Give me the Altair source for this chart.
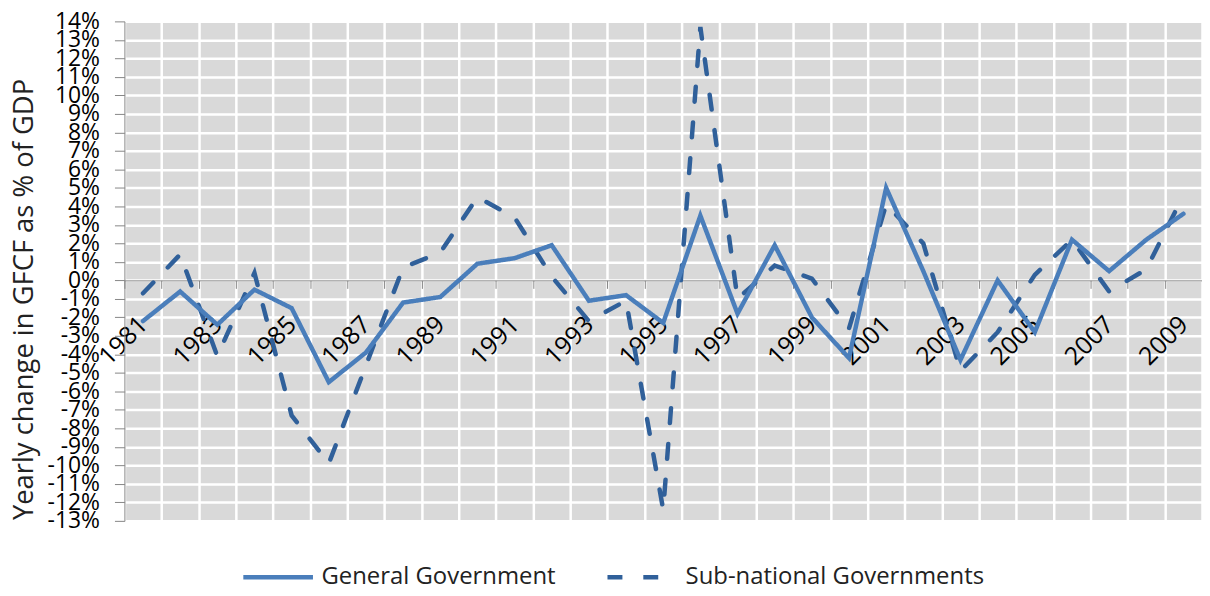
import altair as alt
import pandas as pd

years = list(range(1981, 2010))
general = [-2.2, -0.6, -2.4, -0.5, -1.5, -5.5, -3.9, -1.2, -0.9, 0.9,
           1.2, 1.9, -1.1, -0.8, -2.3, 3.5, -1.8, 1.9, -2.0, -4.2,
           5.0, 0.5, -4.3, 0.0, -2.8, 2.2, 0.5, 2.2, 3.6]
subnational = [-0.7, 1.4, -4.1, 0.4, -7.3, -9.9, -4.6, 0.7, 1.5, 4.5,
               3.4, 0.2, -2.2, -1.1, -12.4, 13.7, -1.0, 0.8, 0.1, -2.6,
               4.1, 2.0, -4.9, -2.8, 0.3, 2.2, -0.6, 0.6, 4.6]
series_names = ["General Government", "Sub-national Governments"]
y_ticks = list(range(-13, 15))
label_years = years[::2]

df = pd.DataFrame({
    "year": years * 2,
    "value": general + subnational,
    "series": [series_names[0]] * len(years) + [series_names[1]] * len(years),
})

W, H = 1083, 502
ymin, ymax = -13, 14
zero_off = -H * (0 - ymin) / (ymax - ymin)

FONT = "Open Sans"
AXC = "#868686"

xscale = alt.Scale(domain=[years[0] - 0.5, years[-1] + 0.5], nice=False, zero=False)
yscale = alt.Scale(domain=[ymin, ymax], nice=False, zero=False)

color = alt.Color("series:N", scale=alt.Scale(domain=series_names, range=["#4A7EBB", "#30609A"]),
                  legend=alt.Legend(title=None, orient="none", legendX=117, legendY=521,
                                    direction="horizontal", symbolType="stroke", symbolSize=4900,
                                    symbolStrokeWidth=4.5, labelFont=FONT, labelFontSize=24,
                                    labelColor="#222222", labelOffset=6, columnPadding=42,
                                    labelLimit=400, padding=0))
dash = alt.StrokeDash("series:N", scale=alt.Scale(domain=series_names, range=[[1, 0], [15, 21]]),
                      legend=None)

yaxis = alt.Axis(values=y_ticks, labelExpr="datum.value + '%'", grid=True, gridColor="white",
                 gridWidth=2.5, domainColor=AXC, tickColor=AXC, tickSize=10, labelPadding=15,
                 labelFont=FONT, labelFontSize=23, labelColor="#000000", labelOverlap=False,
                 labelFlush=False, title="Yearly change in GFCF as % of GDP", titleFont=FONT,
                 titleFontSize=27.5, titleFontWeight="normal", titleColor="#222222",
                 titleX=-100, titleY=279, titleBaseline="middle", titleAngle=-90)

grid_axis = alt.Axis(orient="bottom", offset=zero_off, values=[y - 0.5 for y in years] + [years[-1] + 0.5],
                     grid=True, gridColor="white", gridWidth=2.5, labels=False, ticks=True,
                     tickSize=8, tickColor=AXC, domain=True, domainColor=AXC, title=None)
label_axis = alt.Axis(orient="bottom", offset=zero_off, values=label_years, grid=False, ticks=False,
                      domain=False, labelAngle=-45, labelAlign="right", labelBaseline="middle",
                      labelPadding=40, labelFont=FONT, labelFontSize=25, labelColor="#000000",
                      labelOverlap=False, labelFlush=False, format="d", title=None)

base = alt.Chart(df)
gg = base.transform_filter(alt.datum.series == series_names[0]).mark_line(
    strokeWidth=4.5, strokeCap="round", strokeJoin="miter").encode(
    x=alt.X("year:Q", scale=xscale, axis=grid_axis),
    y=alt.Y("value:Q", scale=yscale, axis=yaxis),
    color=color, strokeDash=dash)
sn = base.transform_filter(alt.datum.series == series_names[1]).mark_line(
    strokeWidth=4.5, strokeCap="round").encode(
    x=alt.X("year:Q", scale=xscale, axis=label_axis),
    y=alt.Y("value:Q", scale=yscale, axis=yaxis),
    color=color, strokeDash=dash)

chart = alt.layer(sn, gg).resolve_axis(x="independent").properties(
    width=W, height=H,
    autosize=alt.AutoSizeParams(type="none"),
    padding={"left": 117, "top": 12, "right": 0, "bottom": 62},
).configure_view(fill="#D9D9D9", stroke=None)

chart.save("out.html", embed_options={"renderer": "svg", "actions": False})
